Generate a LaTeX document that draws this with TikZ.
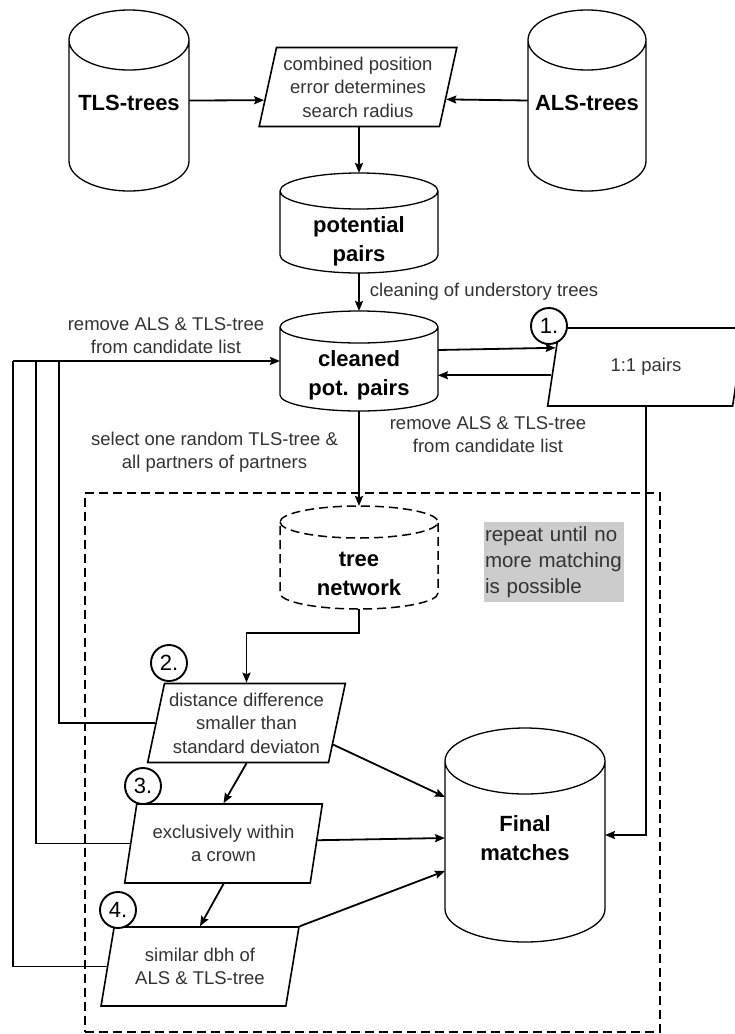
\documentclass[tikz,border=0pt]{standalone}
\usepackage{fontspec}
\setmainfont{Liberation Sans}
\usetikzlibrary{shapes.geometric,arrows.meta,calc}

\newcommand\cylpath[3][]{%
  \draw[#1] let \p1=(#2.north west), \p2=(#2.south east), \n1={(\x2-\x1)/2} in
    (\x1,\y1-#3pt) arc[start angle=180,end angle=360,x radius=\n1,y radius=#3pt]
    arc[start angle=0,end angle=180,x radius=\n1,y radius=#3pt]
    -- (\x1,\y2+#3pt) arc[start angle=180,end angle=360,x radius=\n1,y radius=#3pt]
    -- (\x2,\y1-#3pt);}

\tikzset{
 cylbox/.style={rectangle,draw=none,inner sep=0pt,outer sep=0pt},
 cyltxt/.style={font=\fontsize{22}{29}\selectfont\bfseries,align=center,inner sep=0pt},
 para/.style={trapezium,trapezium left angle=75.6,trapezium right angle=104.4,trapezium stretches=true,minimum width=198pt,minimum height=79pt,draw,line width=1.6pt,inner sep=1pt,align=center,text=black!80,font=\fontsize{18.5}{23.5}\selectfont},
 lbl/.style={align=center,text=black!80,font=\fontsize{18.5}{22.5}\selectfont,inner sep=0pt},
 numc/.style={circle,draw,line width=1.9pt,fill=white,minimum size=36pt,inner sep=0pt,font=\fontsize{22}{22}\selectfont},
 conn/.style={line width=1.8pt},
 arr/.style={conn,-{Stealth[length=10pt,width=8pt,inset=1.5pt]}},
 cyl/.style={line width=1.3pt},
 dashbox/.style={draw,dash pattern=on 9pt off 5pt,line width=1.6pt,inner sep=0pt},
 graybox/.style={fill=gray!40,text=black!80,align=left,text width=138pt,inner xsep=1pt,inner ysep=2pt,minimum height=80pt,font=\fontsize{20.5}{26}\selectfont},
}

\begin{document}
\begin{tikzpicture}[x=1pt,y=1pt]
\useasboundingbox (0,0) rectangle (735,-1034);

% loop frame
\node[dashbox,minimum width=575pt,minimum height=539pt] (loop) at (372.5,-762.5) {};

% cylinders
\node[cylbox,minimum width=120pt,minimum height=181pt] (tls) at (129,-100.5) {};
\cylpath[cyl]{tls}{30}
\node[cyltxt] (tlst) at ([yshift=-2.5pt]tls.center) {TLS-trees};

\node[cylbox,minimum width=118pt,minimum height=181pt] (als) at (587,-100.5) {};
\cylpath[cyl]{als}{30}
\node[cyltxt] (alst) at ([yshift=-2.5pt]als.center) {ALS-trees};

\node[cylbox,minimum width=158pt,minimum height=100pt] (pot) at (359,-223) {};
\cylpath[cyl]{pot}{18}
\node[cyltxt] (pott) at ([yshift=-18.5pt]pot.center) {potential\\pairs};

\node[cylbox,minimum width=158pt,minimum height=100pt] (cl) at (359,-361) {};
\cylpath[cyl]{cl}{16}
\node[cyltxt] (clt) at ([yshift=-14.5pt]cl.center) {cleaned\\pot. pairs};

\node[cylbox,minimum width=158pt,minimum height=103pt] (tn) at (359,-557.5) {};
\cylpath[cyl,dash pattern=on 9pt off 5pt,line width=1.5pt]{tn}{16}
\node[cyltxt] (tnt) at ([yshift=-16pt]tn.center) {tree\\network};

\node[cylbox,minimum width=160pt,minimum height=214pt] (final) at (525,-835) {};
\cylpath[cyl]{final}{33}
\node[cyltxt] (fint) at ([yshift=-3pt]final.center) {Final\\matches};

% parallelograms
\node[para] (comb) at (358,-87) {combined position\\error determines\\search radius};
\node[para,minimum height=78pt] (one) at (646,-367) {1:1 pairs};
\node[para] (p2) at (246.5,-723) {distance difference\\smaller than\\standard deviaton};
\node[para] (p3) at (223.5,-843.5) {exclusively within\\a crown};
\node[para] (p4) at (200,-966.5) {similar dbh of\\ALS \& TLS-tree};

% note
\node[graybox] (rep) at (554,-562) {repeat until no\\more matching\\is possible};

% connectors
\draw[arr] (tls.east) -- (comb.188.3);
\draw[arr] (als.west) -- (comb.-8.8);
\draw[arr] (comb.south -| pot.north) -- (pot.north);
\draw[arr] (pot.south) -- node[lbl,anchor=west,xshift=10pt] (cleanlbl) {cleaning of understory trees} (cl.north);
\draw[arr] ([yshift=11pt]cl.east) -- (one.168.6);
\draw[arr] (one.185) -- (one.185 -| cl.east);
\node[lbl] (rm2) at (488,-434.5) {remove ALS \& TLS-tree\\from candidate list};
\draw[arr] (one.south -| one.center) |- (final.east);
\draw[arr] (cl.south) -- (tn.north);
\node[lbl] (sel) at (214.5,-452) {select one random TLS-tree \&\\all partners of partners};
\draw[arr] (tn.south) -- ++(0,-24) -| (p2.center |- p2.north);

\coordinate (j1) at (59,-361);
\coordinate (j2) at (36,-361);
\coordinate (j3) at (13,-361);
\draw[conn] (p2.west) -| (j1);
\draw[conn] (p3.west) -| (j2);
\draw[conn] (p4.west) -| (j3);
\draw[arr] (j3) -- (cl.west);
\node[lbl] (rm1) at (166,-335.5) {remove ALS \& TLS-tree\\from candidate list};

\draw[arr] (p2.-14.9) -- ([yshift=38pt]final.west);
\draw[arr] (p3.2.2) -- ([yshift=-3pt]final.west);
\draw[arr] (p4.top right corner) -- ([yshift=-36pt]final.west);
\draw[arr] (p2.south) -- (p3.north);
\draw[arr] (p3.south) -- (p4.north);

% step numbers
\node[numc] (n1) at (549,-326) {1.};
\node[numc] (n2) at (169,-663) {2.};
\node[numc] (n3) at (143,-786) {3.};
\node[numc] (n4) at (118,-910) {4.};
\end{tikzpicture}
\end{document}
